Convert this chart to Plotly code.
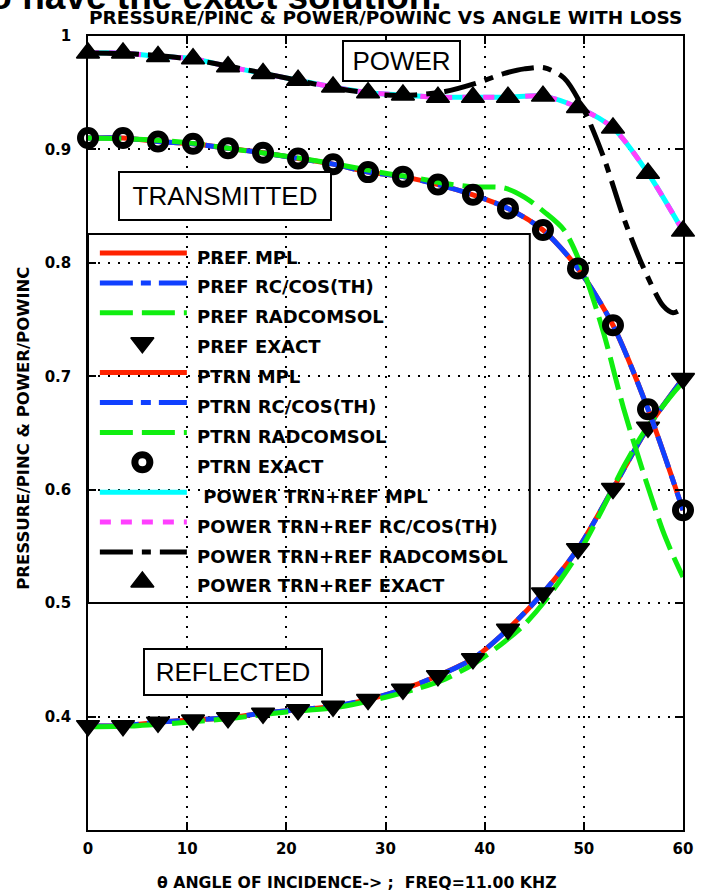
import plotly.graph_objects as go

# ---------------- data ----------------
angle_exact = [0.0, 3.53, 7.06, 10.59, 14.12, 17.65, 21.18, 24.71, 28.24,
               31.76, 35.29, 38.82, 42.35, 45.88, 49.41, 52.94, 56.47, 60.0]
pref_exact = [0.392, 0.392, 0.395, 0.397, 0.399, 0.403, 0.406, 0.409, 0.415,
              0.424, 0.436, 0.451, 0.477, 0.509, 0.548, 0.601, 0.655, 0.698]
ptrn_exact = [0.910, 0.910, 0.907, 0.905, 0.901, 0.897, 0.892, 0.887, 0.880,
              0.876, 0.869, 0.860, 0.848, 0.829, 0.795, 0.745, 0.671, 0.582]
power_exact = [0.985, 0.985, 0.982, 0.980, 0.973, 0.967, 0.961, 0.955, 0.950,
               0.948, 0.946, 0.946, 0.946, 0.947, 0.937, 0.919, 0.879, 0.828]

pref_mpl = [0.392, 0.392, 0.395, 0.397, 0.399, 0.403, 0.406, 0.409, 0.415,
            0.424, 0.436, 0.451, 0.477, 0.509, 0.548, 0.601, 0.655, 0.698]
pref_rc = [0.392, 0.392, 0.395, 0.397, 0.399, 0.403, 0.406, 0.409, 0.415,
           0.424, 0.436, 0.451, 0.477, 0.509, 0.548, 0.601, 0.655, 0.698]
ptrn_mpl = [0.910, 0.910, 0.907, 0.905, 0.901, 0.897, 0.892, 0.887, 0.880,
            0.876, 0.869, 0.860, 0.848, 0.829, 0.795, 0.745, 0.671, 0.582]
ptrn_rc = [0.910, 0.910, 0.907, 0.905, 0.901, 0.897, 0.892, 0.887, 0.880,
           0.876, 0.869, 0.860, 0.848, 0.829, 0.795, 0.745, 0.671, 0.582]
power_mpl = [0.985, 0.985, 0.982, 0.980, 0.973, 0.967, 0.961, 0.955, 0.950,
             0.948, 0.946, 0.946, 0.946, 0.947, 0.937, 0.919, 0.879, 0.828]
power_rc = [0.985, 0.985, 0.982, 0.980, 0.973, 0.967, 0.961, 0.955, 0.950,
            0.948, 0.946, 0.946, 0.946, 0.947, 0.937, 0.919, 0.879, 0.828]

angle_comsol = [0, 5, 10, 15, 20, 25, 30, 33, 36, 39, 42, 44, 46, 48, 50,
                52, 54, 56, 58, 59, 60]
pref_comsol = [0.391, 0.392, 0.395, 0.399, 0.404, 0.408, 0.417, 0.424, 0.433,
               0.447, 0.466, 0.481, 0.501, 0.525, 0.552, 0.585, 0.620, 0.650,
               0.674, 0.685, 0.695]
ptrn_comsol = [0.910, 0.909, 0.906, 0.900, 0.894, 0.887, 0.879, 0.875, 0.870,
               0.867, 0.866, 0.858, 0.845, 0.829, 0.792, 0.738, 0.672, 0.615,
               0.563, 0.542, 0.523]
power_comsol = [0.985, 0.984, 0.980, 0.972, 0.963, 0.954, 0.948, 0.948, 0.951,
                0.958, 0.967, 0.971, 0.972, 0.963, 0.935, 0.893, 0.840, 0.796,
                0.762, 0.756, 0.760]

x_ticks = [0, 10, 20, 30, 40, 50, 60]
y_ticks = [0.4, 0.5, 0.6, 0.7, 0.8, 0.9, 1.0]
y_ticktext = ["0.4", "0.5", "0.6", "0.7", "0.8", "0.9", "1"]

legend_labels = ["PREF MPL", "PREF RC/COS(TH)", "PREF RADCOMSOL", "PREF EXACT",
                 "PTRN MPL", "PTRN RC/COS(TH)", "PTRN RADCOMSOL", "PTRN EXACT",
                 "\u00a0POWER TRN+REF MPL", "POWER TRN+REF RC/COS(TH)",
                 "POWER TRN+REF RADCOMSOL", "POWER TRN+REF EXACT"]

# ---------------- styles ----------------
W, H = 705, 895
L, R, T, B = 88, 690, 36, 830


def px_x(p):
    return (p - L) / (R - L)


def px_y(p):
    return (B - p) / (B - T)


LW = 5
red = dict(color="#ff2200", width=LW, dash="solid")
blue = dict(color="#1040ff", width=LW, dash="33px,8px,10px,8px")
green = dict(color="#10ee10", width=LW, dash="33px,9px")
cyan = dict(color="#00ffff", width=LW, dash="solid")
magenta = dict(color="#ff40ff", width=LW, dash="11px,10px")
blackdd = dict(color="black", width=LW, dash="33px,9px,9px,9px")

tri_down = dict(symbol="triangle-down", size=20, color="black",
                line=dict(color="black", width=1.5))
tri_up = dict(symbol="triangle-up", size=20, color="black",
              line=dict(color="black", width=1.5))
ring = dict(symbol="circle-open", size=15, color="black",
            line=dict(color="black", width=7))

FONT = "DejaVu Sans"

fig = go.Figure()


def add_line(x, y, style):
    fig.add_trace(go.Scatter(x=x, y=y, mode="lines", line=dict(style, shape="spline", smoothing=0.8),
                             showlegend=False, hoverinfo="skip"))


def add_markers(x, y, marker):
    fig.add_trace(go.Scatter(x=x, y=y, mode="markers", marker=marker,
                             showlegend=False, cliponaxis=False, hoverinfo="skip"))


add_line(angle_exact, pref_mpl, red)
add_line(angle_exact, pref_rc, blue)
add_line(angle_comsol, pref_comsol, green)
add_markers(angle_exact, pref_exact, tri_down)
add_line(angle_exact, ptrn_mpl, red)
add_line(angle_exact, ptrn_rc, blue)
add_line(angle_comsol, ptrn_comsol, green)
add_markers(angle_exact, ptrn_exact, ring)
add_line(angle_exact, power_mpl, cyan)
add_line(angle_exact, power_rc, magenta)
add_line(angle_comsol, power_comsol, blackdd)
add_markers(angle_exact, power_exact, tri_up)

# ---------------- legend drawn in pixel space (overlay axes) ----------------
legend_kinds = [("line", red), ("line", blue), ("line", green), ("marker", tri_down),
                ("line", red), ("line", blue), ("line", green), ("marker", ring),
                ("line", cyan), ("line", magenta), ("line", blackdd), ("marker", tri_up)]
leg_top, leg_bot, leg_right = 234, 603, 535
row0, row_step = 253, 29.9
for i, (lab, (kind, st)) in enumerate(zip(legend_labels, legend_kinds)):
    yy = row0 + i * row_step
    if kind == "line":
        fig.add_trace(go.Scatter(x=[100, 188], y=[yy, yy], mode="lines", line=st,
                                 xaxis="x2", yaxis="y2", showlegend=False, hoverinfo="skip"))
    else:
        fig.add_trace(go.Scatter(x=[143], y=[yy], mode="markers", marker=st, cliponaxis=False,
                                 xaxis="x2", yaxis="y2", showlegend=False, hoverinfo="skip"))
    fig.add_annotation(x=px_x(196), y=px_y(yy + 4), xref="paper", yref="paper", text=lab,
                       showarrow=False, xanchor="left", yanchor="middle",
                       font=dict(family=FONT, size=18, color="black", weight="bold"))

fig.add_shape(type="rect", xref="paper", yref="paper",
              x0=0, x1=px_x(leg_right), y0=px_y(leg_bot), y1=px_y(leg_top),
              line=dict(color="black", width=2), fillcolor="white", layer="between")

# ---------------- boxed labels ----------------
box_font = dict(family="Liberation Sans", size=26, color="black")
for txt, xv, yv, bw, bh in [("POWER", 31.6, 0.978, 115, 38),
                            ("TRANSMITTED", 13.86, 0.859, 210, 46),
                            ("REFLECTED", 14.66, 0.439, 176, 44)]:
    fig.add_annotation(x=xv, y=yv, xref="x", yref="y", text=txt, showarrow=False,
                       font=box_font, bgcolor="white", bordercolor="black", borderwidth=2,
                       borderpad=0, width=bw, height=bh, xanchor="center", yanchor="middle")

# ---------------- titles ----------------
fig.add_annotation(x=px_x(448), y=px_y(-3), xref="paper", yref="paper",
                   text="to have the exact solution.", showarrow=False,
                   font=dict(family="Liberation Sans", size=37, color="black", weight="bold"),
                   xanchor="right", yanchor="middle")
fig.add_annotation(x=px_x(389), y=px_y(18), xref="paper", yref="paper",
                   text="PRESSURE/PINC & POWER/POWINC VS ANGLE WITH LOSS", showarrow=False,
                   font=dict(family=FONT, size=18.5, color="black", weight="bold"),
                   xanchor="center", yanchor="middle")
fig.add_annotation(x=px_x(360), y=px_y(882), xref="paper", yref="paper",
                   text="\u03b8 ANGLE OF INCIDENCE-> ;  FREQ=11.00 KHZ", showarrow=False,
                   font=dict(family=FONT, size=15.7, color="black", weight="bold"),
                   xanchor="center", yanchor="middle")
fig.add_annotation(x=px_x(22), y=px_y(428), xref="paper", yref="paper", textangle=-90,
                   text="PRESSURE/PINC & POWER/POWINC", showarrow=False,
                   font=dict(family=FONT, size=16.5, color="black", weight="bold"),
                   xanchor="center", yanchor="middle")

axis_common = dict(showline=True, linecolor="black", linewidth=1.5, mirror="ticks",
                   ticks="inside", ticklen=8, tickwidth=1.5, tickcolor="black",
                   showgrid=True, gridcolor="black", gridwidth=2, griddash="2px,8px",
                   zeroline=False,
                   tickfont=dict(family=FONT, size=15, color="black", weight="bold"))

fig.update_layout(
    width=W, height=H, autosize=False,
    margin=dict(l=L, r=W - R, t=T, b=H - B, pad=0),
    paper_bgcolor="white", plot_bgcolor="white", showlegend=False,
    xaxis=dict(axis_common, range=[0, 60], tickvals=x_ticks, ticklabelstandoff=4),
    yaxis=dict(axis_common, range=[0.3, 1.0], tickvals=y_ticks, ticktext=y_ticktext,
               ticklabelstandoff=12),
    xaxis2=dict(overlaying="x", range=[L, R], visible=False, fixedrange=True),
    yaxis2=dict(overlaying="y", range=[B, T], visible=False, fixedrange=True),
)

fig.write_html("out.html")
